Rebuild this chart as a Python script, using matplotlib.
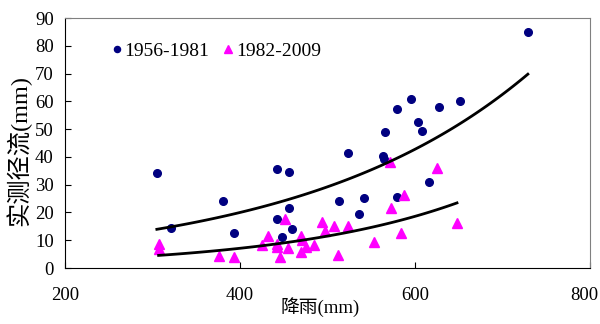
import numpy as np
import matplotlib
matplotlib.use("Agg")
import matplotlib.pyplot as plt
import matplotlib.transforms as mtransforms

plt.rcParams['font.family'] = ['Liberation Serif', 'Noto Sans CJK SC']

# 1956-1981: rainfall (mm) and observed runoff (mm)
rain_early = [305, 321, 381, 393, 442, 456, 456, 442, 460, 448,
              523, 513, 542, 536, 563, 565, 566, 580, 596, 604,
              608, 579, 616, 628, 652, 729]
runoff_early = [34.1, 14.5, 24.2, 12.5, 35.5, 34.6, 21.7, 17.5, 14.0, 11.1,
                41.5, 24.2, 25.2, 19.4, 40.4, 39.1, 49.0, 57.3, 60.8, 52.5,
                49.4, 25.7, 31.1, 57.9, 60.2, 84.9]

# 1982-2009
rain_late = [307, 307, 376, 393, 425, 432, 442, 442, 451, 446,
             455, 470, 471, 475, 470, 485, 494, 497, 508, 523,
             512, 553, 571, 573, 587, 584, 625, 648]
runoff_late = [8.5, 6.8, 4.5, 3.9, 8.3, 11.7, 8.8, 7.5, 17.5, 4.0,
               7.2, 11.6, 10.1, 7.4, 5.8, 8.3, 16.7, 13.5, 15.2, 15.2,
               4.7, 9.3, 38.1, 21.5, 26.4, 12.7, 35.9, 16.1]

BLUE = "#000080"
PINK = "#FF00FF"


def exp_trend(x, y):
    # exponential trendline, fitted on log(y) like a spreadsheet does
    x = np.asarray(x, float)
    b, ln_a = np.polyfit(x, np.log(y), 1)
    xs = np.linspace(x.min(), x.max(), 100)
    return xs, np.exp(ln_a) * np.exp(b * xs)


fig = plt.figure(figsize=(6, 3.24), dpi=100)
ax = fig.add_axes([0.1083, 0.1728, 0.875, 0.7716])

ax.plot(rain_early, runoff_early, 'o', color=BLUE, markersize=5.5,
        linestyle='none', label='1956-1981', zorder=3)
ax.plot(rain_late, runoff_late, '^', color=PINK, markersize=6.5,
        linestyle='none', label='1982-2009', zorder=3)

xs, ys = exp_trend(rain_early, runoff_early)
ax.plot(xs, ys, color='black', linewidth=2, zorder=4)
xs, ys = exp_trend(rain_late, runoff_late)
ax.plot(xs, ys, color='black', linewidth=2, zorder=4)

ax.set_xlim(200, 800)
ax.set_ylim(0, 90)
ax.set_xticks([200, 400, 600, 800])
ax.set_yticks(range(0, 91, 10))
ax.tick_params(direction='in', length=4, labelsize=13.5)
ax.tick_params(axis='x', pad=14)
ax.tick_params(axis='y', pad=8)

# last x label is pulled in so it stays inside the figure
last = ax.get_xticklabels()[-1]
last.set_horizontalalignment('right')
last.set_transform(last.get_transform() +
                   mtransforms.ScaledTranslation(8 / 100, 0, fig.dpi_scale_trans))

for side in ('top', 'right'):
    ax.spines[side].set_color('#808080')
for side in ('left', 'bottom'):
    ax.spines[side].set_color('black')

ax.set_xlabel('降雨(mm)', fontsize=13.5, va='center')
ax.xaxis.set_label_coords(0.486, -0.156)
ax.set_ylabel('实测径流(mm)', fontsize=17.5, va='center')
ax.yaxis.set_label_coords(-0.088, 0.47)

leg = ax.legend(loc='center left', bbox_to_anchor=(0.086, 0.868), ncol=2,
                frameon=False, fontsize=14, handlelength=0.7,
                handletextpad=0.05, columnspacing=0.6, borderpad=0,
                borderaxespad=0, markerscale=0.8)

fig.savefig('out.png', dpi=100)
